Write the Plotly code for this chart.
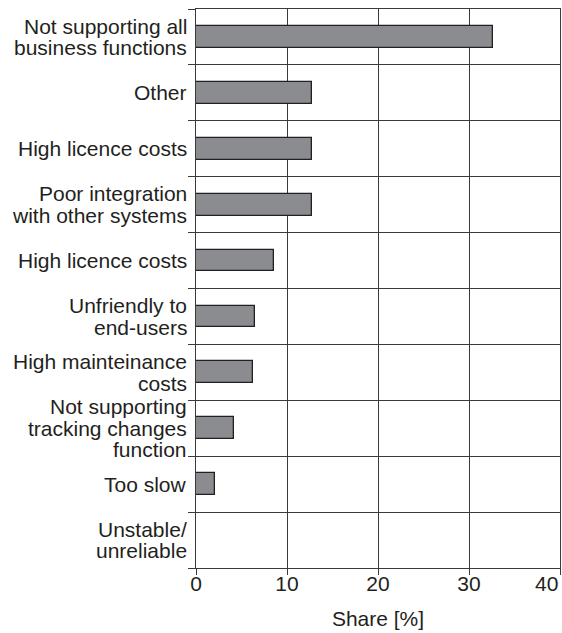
import plotly.graph_objects as go

categories = [
    ["Not supporting all", "business functions"],
    ["Other"],
    ["High licence costs"],
    ["Poor integration", "with other systems"],
    ["High licence costs"],
    ["Unfriendly to", "end-users"],
    ["High mainteinance", "costs"],
    ["Not supporting", "tracking changes", "function"],
    ["Too slow"],
    ["Unstable/", "unreliable"],
]
values = [32.6, 12.8, 12.8, 12.8, 8.6, 6.5, 6.3, 4.2, 2.1, 0]
x_ticks = [0, 10, 20, 30, 40]
x_title = "Share [%]"

FONT = "Liberation Sans, Arial, sans-serif"
TXT = "#231f20"
LINE = "#3a3a3a"
FS = 21
LINE_H = 21.7

ypos = [i + 0.5 for i in range(len(categories))]

fig = go.Figure()
fig.add_trace(go.Bar(
    x=values, y=ypos, orientation="h", width=0.39,
    marker=dict(color="#8b8c8f", line=dict(color="#231f20", width=1.3)),
    showlegend=False, hoverinfo="skip",
))

annotations = []
for i, lines in enumerate(categories):
    n = len(lines)
    for j, t in enumerate(lines):
        annotations.append(dict(
            text=t, xref="paper", x=0, xanchor="right", xshift=-7,
            yref="y", y=ypos[i], yanchor="middle",
            yshift=-(j - (n - 1) / 2) * LINE_H,
            showarrow=False, font=dict(family=FONT, size=FS, color=TXT),
        ))
# last x tick label kept inside the page (right-aligned to its tick)
annotations.append(dict(
    text=str(x_ticks[-1]), xref="x", x=x_ticks[-1], xanchor="right",
    yref="paper", y=0, yanchor="top", yshift=-2,
    showarrow=False, font=dict(family=FONT, size=FS, color=TXT),
))

fig.update_layout(
    width=562, height=633,
    margin=dict(l=196, r=2, t=9, b=65),
    paper_bgcolor="white", plot_bgcolor="white",
    font=dict(family=FONT, size=FS, color=TXT),
    annotations=annotations,
    bargap=0,
)
fig.update_xaxes(
    range=[0, 40], tickvals=x_ticks,
    ticktext=[str(v) for v in x_ticks[:-1]] + [""],
    showgrid=True, gridcolor=LINE, gridwidth=1,
    showline=True, linecolor=LINE, linewidth=1, mirror=True,
    ticks="outside", ticklen=6, tickcolor=LINE, tickwidth=1,
    ticklabelstandoff=-9,
    tickfont=dict(family=FONT, size=FS, color=TXT),
    title=dict(text=x_title, font=dict(family=FONT, size=FS, color=TXT), standoff=17),
    zeroline=False, fixedrange=True,
)
fig.update_yaxes(
    range=[len(categories), 0], tickvals=list(range(len(categories) + 1)),
    showticklabels=False,
    showgrid=True, gridcolor=LINE, gridwidth=1,
    showline=True, linecolor=LINE, linewidth=1, mirror=True,
    ticks="outside", ticklen=7, tickcolor=LINE, tickwidth=1,
    zeroline=False, fixedrange=True,
)

fig.write_html("out.html", config={"displayModeBar": False},
               post_script="document.body.style.margin='0';document.body.style.overflow='hidden';")
